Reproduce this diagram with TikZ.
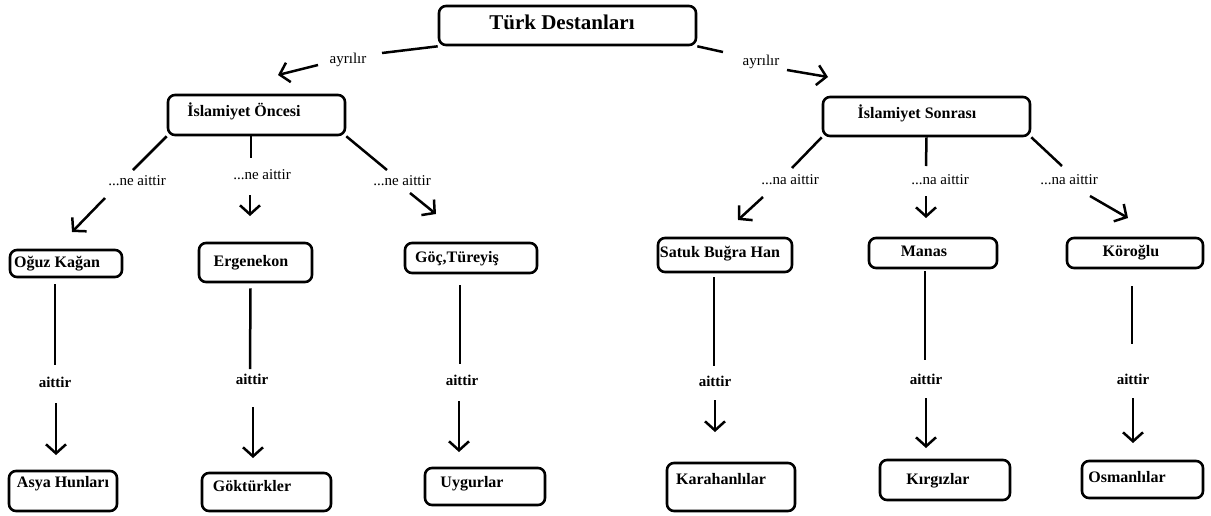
\documentclass[tikz,border=0pt]{standalone}
\usepackage{fontspec}
\setmainfont{Liberation Serif}
\usetikzlibrary{arrows.meta,calc}
\tikzset{
 box/.style={draw, line width=2.6pt, rounded corners=7pt, inner sep=0pt},
 btxt/.style={font=\fontsize{16}{18}\selectfont\bfseries, inner sep=0pt, text height=11pt, text depth=3pt},
 ttl/.style={font=\fontsize{21}{24}\selectfont\bfseries, inner sep=0pt, text height=14pt, text depth=4pt},
 elab/.style={font=\fontsize{15}{17}\selectfont, inner sep=0pt, text height=10pt, text depth=3pt},
 alab/.style={font=\fontsize{15}{17}\selectfont\bfseries, inner sep=0pt, text height=10pt, text depth=1pt},
 ln/.style={line width=2.5pt},
 arr/.style={line width=2.5pt, -{Straight Barb[length=9pt,width=20pt]}},
}
\newcommand\mkbox[8]{%
 \node[box, minimum width={#4-#2}, minimum height={#5-#3}] (#1) at ({(#2+#4)/2},{(#3+#5)/2}) {};
 \node[btxt] (#1-t) at (#6,#7) {#8};}
\newcommand\mkedge[8]{%
 \coordinate (#1-a) at #3; \coordinate (#1-b) at #7; \coordinate (#1-c) at #8;
 \draw[ln] #2 -- (#1-a);
 \node[#5] (#1-l) at #4 {#6};
 \draw[arr] (#1-b) -- (#1-c);}
\begin{document}
\begin{tikzpicture}[x=1pt,y=-1pt]
\useasboundingbox[fill=white] (0,0) rectangle (1211,515);
% title
\node[box, minimum width=257, minimum height=39] (title) at (567.5,25.5) {};
\node[ttl] (title-t) at (562,24) {Türk Destanları};
% level 1
\mkbox{on}{168}{95}{345}{135}{244}{112}{İslamiyet Öncesi}
\mkbox{so}{823}{97}{1030}{136}{917}{114}{İslamiyet Sonrası}
% level 2
\mkbox{oguz}{10}{250}{122}{277}{57}{263}{Oğuz Kağan}
\mkbox{erg}{199}{243}{312}{282}{251}{262}{Ergenekon}
\mkbox{goc}{405}{243}{537}{273}{457}{258}{Göç,Türeyiş}
\mkbox{satuk}{658}{238}{792}{272}{720}{253}{Satuk Buğra Han}
\mkbox{manas}{869}{238}{997}{268}{924}{252}{Manas}
\mkbox{kor}{1067}{238}{1203}{268}{1131}{252}{Köroğlu}
% level 3
\mkbox{asya}{9}{471}{117}{511}{63}{483}{Asya Hunları}
\mkbox{gok}{202}{473}{331}{511}{252}{487}{Göktürkler}
\mkbox{uyg}{425}{468}{545}{505}{472}{483}{Uygurlar}
\mkbox{kara}{667}{463}{795}{511}{721}{480}{Karahanlılar}
\mkbox{kirg}{880}{460}{1010}{500}{938}{480}{Kırgızlar}
\mkbox{osm}{1082}{461}{1203}{498}{1127}{478}{Osmanlılar}
% title edges
\mkedge{tl}{(title.south west)}{(382,53)}{(348,60)}{elab}{ayrılır}{(318,65)}{(278,75)}
\mkedge{tr}{(title.south east)}{(723,52)}{(761,62)}{elab}{ayrılır}{(787,70)}{(828,77)}
% on edges
\mkedge{onl}{(on.south west)}{(133,170)}{(137,182)}{elab}{...ne aittir}{(105,198)}{(72,232)}
\mkedge{onm}{([xshift=-5.5pt]on.south)}{(251,158)}{(262,176)}{elab}{...ne aittir}{(250,195)}{(250,216)}
\mkedge{onr}{(on.south east)}{(387,170)}{(402,182)}{elab}{...ne aittir}{(410,193)}{(436,214)}
% so edges
\mkedge{sol}{(so.south west)}{(792,168)}{(790,181)}{elab}{...na aittir}{(763,197)}{(738,220)}
\mkedge{som}{(so.south)}{(926,166)}{(940,181)}{elab}{...na aittir}{(926,196)}{(926,218)}
\mkedge{sor}{(so.south east)}{(1062,166)}{(1069,181)}{elab}{...na aittir}{(1090,196)}{(1128,218)}
% verticals
\mkedge{v1}{([xshift=-11pt,yshift=-6pt]oguz.south)}{(55,365)}{(55,383)}{alab}{aittir}{(56,403)}{(56,455)}
\mkedge{v2}{([xshift=-5pt,yshift=-5pt]erg.south)}{(250,369)}{(252,380)}{alab}{aittir}{(253,407)}{(253,458)}
\mkedge{v3}{([xshift=-11pt,yshift=-11pt]goc.south)}{(460,364)}{(462,381)}{alab}{aittir}{(459,401)}{(459,452)}
\mkedge{v4}{([xshift=-11pt,yshift=-4pt]satuk.south)}{(714,366)}{(715,382)}{alab}{aittir}{(715,400)}{(715,432)}
\mkedge{v5}{([xshift=-8pt,yshift=-2pt]manas.south)}{(925,360)}{(926,380)}{alab}{aittir}{(926,398)}{(926,448)}
\mkedge{v6}{([xshift=-3pt,yshift=-17pt]kor.south)}{(1132,344)}{(1133,380)}{alab}{aittir}{(1133,398)}{(1133,443)}
\end{tikzpicture}
\end{document}
